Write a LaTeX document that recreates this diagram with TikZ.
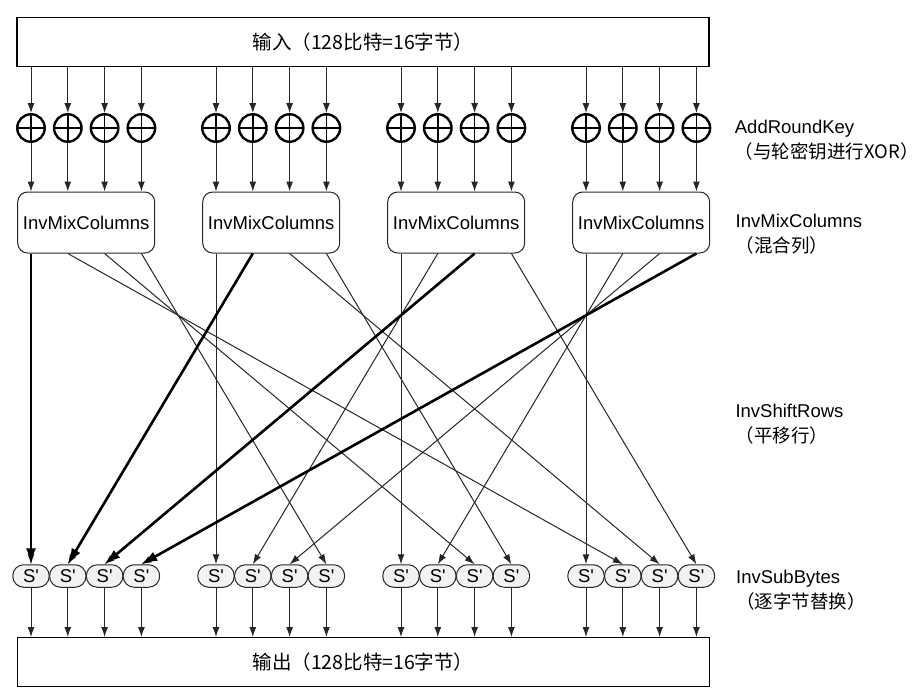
\documentclass[tikz,border=0pt]{standalone}
\usepackage{fontspec}
\setmainfont{Liberation Sans}
\newfontfamily\cjk{Noto Sans CJK SC}
\usetikzlibrary{positioning,arrows.meta}

\begin{document}
\begin{tikzpicture}[x=1pt, y=-1pt,
			font=\fontsize{18.5}{25}\selectfont,
			busnode/.style={rectangle, draw, minimum width=692pt, minimum height=49pt, inner sep=0pt},
			xornode/.style={circle, draw, line width=2.4pt, minimum size=27.5pt, inner sep=0pt,
				path picture={\draw[line width=1.6pt] (path picture bounding box.north) -- (path picture bounding box.south)
					(path picture bounding box.west) -- (path picture bounding box.east);}},
			mixnode/.style={rectangle, rounded corners=10pt, draw=black!85, line width=1pt, minimum width=137pt, minimum height=61pt, inner sep=0pt},
			sboxnode/.style={rectangle, rounded corners=11pt, draw=black!85, fill=gray!10, line width=1pt, minimum width=36.5pt, minimum height=22.5pt, inner sep=0pt},
			labelnode/.style={align=left, anchor=west},
			thinarrow/.style={-{Latex[length=10pt,width=7pt]}, line width=1pt, draw=black!85},
			thickarrow/.style={-{Latex[length=16pt,width=10pt]}, line width=2.6pt},
			]
			\useasboundingbox (0,0) rectangle (920,693);
			%Nodes
			\node[busnode, line width=1.8pt] (in)  at (363,42)  {\fontsize{19.5}{25}\selectfont\cjk 输入（128比特=16字节）};
			\node[busnode, line width=1pt]   (out) at (363,662) {\fontsize{19.5}{25}\selectfont\cjk 输出（128比特=16字节）};

			\foreach \grp in {0,...,3}
				\node[mixnode] (mix\grp) at ({86.2+185*\grp},222.5) {InvMixColumns};

			\foreach \grp in {0,...,3}
				\foreach \byte in {0,...,3} {
					\node[xornode]  (xor\grp\byte)  at ({31+185*\grp+36.8*\byte},128) {};
					\node[sboxnode] (sbox\grp\byte) at ({31+185*\grp+36.8*\byte},576) {S\textquotesingle};
				}

			\node[labelnode, right=20pt of xor33, yshift=-12.5pt] (keylabel) {AddRoundKey\\{\cjk （与轮密钥进行XOR）}};
			\node[labelnode, right=22pt of mix3, yshift=-12pt]    (mixlabel) {InvMixColumns\\{\cjk （混合列）}};
			\node[labelnode] (shiftlabel) at (732,424)                      {InvShiftRows\\{\cjk （平移行）}};
			\node[labelnode, right=17.5pt of sbox33, yshift=-14pt] (sublabel) {InvSubBytes\\{\cjk （逐字节替换）}};

			%Arrows
			\foreach \grp in {0,...,3}
				\foreach \byte in {0,...,3} {
					\draw[thinarrow] (in.south -| xor\grp\byte) -- (xor\grp\byte);
					\draw[thinarrow] (xor\grp\byte) -- (mix\grp.north -| xor\grp\byte);
					\pgfmathtruncatemacro\dst{mod(\grp-\byte+4,4)}
					\draw[thinarrow] (mix\grp.south -| xor\grp\byte) -- (sbox\dst\byte.north);
					\draw[thinarrow] (sbox\grp\byte) -- (out.north -| sbox\grp\byte);
				}
			\foreach \byte in {0,...,3}
				\draw[thickarrow] (mix\byte.south -| xor\byte\byte) -- (sbox0\byte.north);
		\end{tikzpicture}
\end{document}
